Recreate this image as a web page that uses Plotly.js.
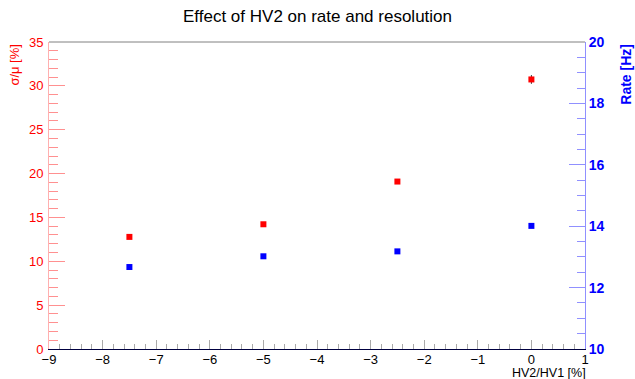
<!DOCTYPE html>
<html>
<head>
<meta charset="utf-8">
<script src="https://cdn.plot.ly/plotly-3.0.1.min.js"></script>
<style>html,body{margin:0;padding:0;background:#fff;}#chart{width:635px;height:379px;}</style>
</head>
<body>
<div id="chart"></div>
<script>
const hvRatio = [-7.5, -5, -2.5, 0];
const resolution = [12.78, 14.22, 19.09, 30.73];
const resolutionErr = [0.15, 0.15, 0.2, 0.5];
const rate = [12.67, 13.02, 13.18, 14.01];
const rateErr = [0.03, 0.03, 0.03, 0.03];

const font = 'Liberation Sans, Arial, sans-serif';

const traces = [
  {
    x: hvRatio, y: resolution, type: 'scatter', mode: 'markers', name: 'σ/μ',
    marker: {symbol: 'square', size: 6, color: '#ff0000'},
    error_y: {type: 'data', array: resolutionErr, visible: true, color: '#333', thickness: 1, width: 0},
    yaxis: 'y'
  },
  {
    x: hvRatio, y: rate, type: 'scatter', mode: 'markers', name: 'Rate',
    marker: {symbol: 'square', size: 6, color: '#0000ff'},
    error_y: {type: 'data', array: rateErr, visible: true, color: '#333', thickness: 1, width: 0},
    yaxis: 'y2'
  }
];

const layout = {
  width: 635, height: 379,
  margin: {l: 49, r: 50, t: 42, b: 30, pad: 0},
  paper_bgcolor: '#fff', plot_bgcolor: '#fff',
  showlegend: false,
  font: {family: font, size: 13, color: '#000'},
  title: {text: 'Effect of HV2 on rate and resolution', x: 0.5, xanchor: 'center', y: 0.958, yanchor: 'middle', font: {family: font, size: 17, color: '#000'}},
  xaxis: {
    range: [-9, 1], dtick: 1, tick0: 0,
    showgrid: false, zeroline: false,
    showline: true, linecolor: '#000040', linewidth: 1,
    ticks: 'inside', ticklen: 9, tickcolor: '#aaaaaa', tickwidth: 1,
    minor: {dtick: 0.2, ticks: 'inside', ticklen: 5, tickcolor: '#aaaaaa', showgrid: false},
    tickfont: {family: font, size: 13, color: '#000'},
    ticklabelstandoff: -2,
    title: {text: ''},
    fixedrange: true
  },
  yaxis: {
    range: [0, 35], dtick: 5, tick0: 0,
    showgrid: false, zeroline: false,
    showline: true, linecolor: '#ffb0b0', linewidth: 1,
    ticks: 'inside', ticklen: 16, tickcolor: '#ff9090', tickwidth: 1,
    minor: {dtick: 1, ticks: 'inside', ticklen: 9, tickcolor: '#ff9090', showgrid: false},
    tickfont: {family: font, size: 13, color: '#ff0000'},
    ticklabelstandoff: 2,
    title: {text: ''},
    fixedrange: true
  },
  yaxis2: {
    overlaying: 'y', side: 'right', anchor: 'x',
    range: [10, 20], dtick: 2, tick0: 10,
    showgrid: false, zeroline: false,
    showline: true, linecolor: '#9090ff', linewidth: 1,
    ticks: 'inside', ticklen: 16, tickcolor: '#9090ff', tickwidth: 1,
    minor: {dtick: 0.5, ticks: 'inside', ticklen: 8, tickcolor: '#9090ff', showgrid: false},
    tickfont: {family: font, size: 14, color: '#0000ff', weight: 'bold'},
    title: {text: ''},
    fixedrange: true
  },
  shapes: [
    {type: 'line', xref: 'paper', yref: 'paper', x0: 0, x1: 1, y0: 1, y1: 1, line: {color: '#808080', width: 1}}
  ],
  annotations: [
    {text: 'σ/μ [%]', xref: 'paper', yref: 'paper', x: -0.066, y: 1, xanchor: 'center', yanchor: 'top', textangle: -90, showarrow: false, font: {family: font, size: 13, color: '#ff0000'}},
    {text: '<b>Rate [Hz]</b>', xref: 'paper', yref: 'paper', x: 1.075, y: 1, xanchor: 'center', yanchor: 'top', textangle: -90, showarrow: false, font: {family: font, size: 14, color: '#0000ff'}},
    {text: 'HV2/HV1 [%]', xref: 'paper', yref: 'paper', x: 1, y: 0, yshift: -24, xshift: 3, xanchor: 'right', yanchor: 'middle', showarrow: false, font: {family: font, size: 12.5, color: '#000'}}
  ]
};

Plotly.newPlot('chart', traces, layout, {displayModeBar: false, staticPlot: true});
</script>
</body>
</html>
